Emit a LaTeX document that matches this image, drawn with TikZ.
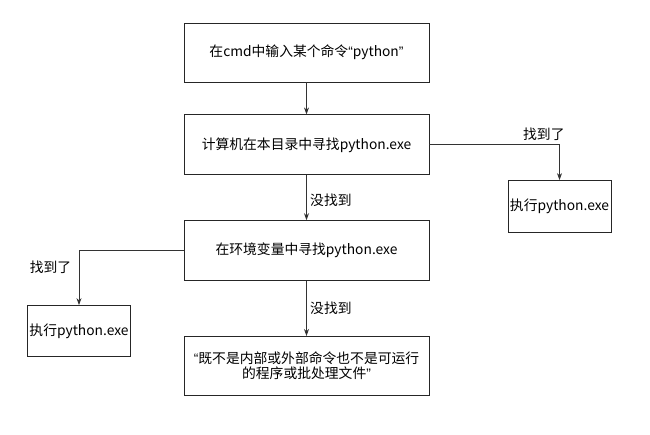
\documentclass[tikz,border=0pt]{standalone}
\usepackage{fontspec}
\setmainfont{Noto Sans CJK SC}
\newfontfamily\latinquote{Liberation Sans}
\usetikzlibrary{positioning, arrows.meta}

\newcommand{\openq}{{\latinquote “}}
\newcommand{\closeq}{{\latinquote ”}}

\tikzset{
  box/.style={draw=black!85, line width=0.8pt, minimum width=245pt, minimum height=59pt, align=center, inner sep=2pt},
  sidebox/.style={box, minimum width=103pt, minimum height=52pt},
  flow/.style={draw=black!80, line width=0.8pt, -{Stealth[length=7pt,width=5pt]}}
}

\begin{document}
\begin{tikzpicture}[x=1pt, y=-1pt, node distance=32pt, font=\fontsize{13.8}{15}\selectfont]
    \useasboundingbox (0,0) rectangle (650,435);
    \node[box] (input) at (306.5,52.5) {在cmd中输入某个命令\openq python\closeq};
    \node[box, minimum height=60pt, below=of input] (local) {计算机在本目录中寻找python.exe};
    \node[box, minimum height=60pt, below=45pt of local] (envpath) {在环境变量中寻找python.exe};
    \node[box, below=55pt of envpath] (notfound) {\openq 既不是内部或外部命令也不是可运行\\的程序或批处理文件\closeq};
    \node[sidebox] (runright) at (559.5,206.5) {执行python.exe};
    \node[sidebox, minimum width=102pt, minimum height=51pt] (runleft) at (79,331) {执行python.exe};

    \path[flow] (input) edge (local);
    \path[flow] (local) edge node[right, yshift=-3pt]{没找到} (envpath);
    \path[flow] (envpath) edge node[right]{没找到} (notfound);

    \draw[flow] (local.east) -| node[pos=0.44, above]{找到了} (runright);
    \draw[flow] (envpath.west) -| node[pos=0.65, left, xshift=-4pt]{找到了} (runleft);
\end{tikzpicture}
\end{document}
